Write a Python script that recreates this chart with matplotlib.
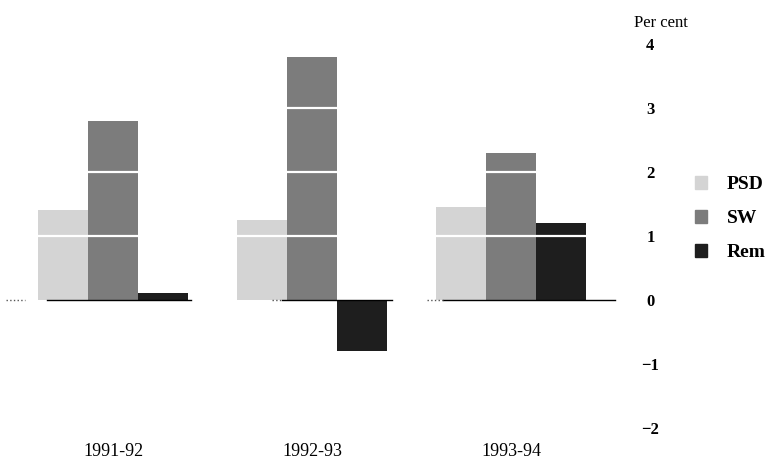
import matplotlib.pyplot as plt
import numpy as np

plt.rcParams['font.family'] = ['Liberation Serif', 'DejaVu Serif']

years = ['1991-92', '1992-93', '1993-94']
series = ['PSD', 'SW', 'Rem']
psd = [1.4, 1.25, 1.45]
sw = [2.8, 3.8, 2.3]
rem = [0.1, -0.8, 1.2]
yticks = [4, 3, 2, 1, 0, -1, -2]

colors = ['#d4d4d4', '#7c7c7c', '#1e1e1e']
width = 0.25

fig = plt.figure(figsize=(7.65, 4.61), dpi=100)
ax = fig.add_axes([0, 0, 1, 1])
ax.set_xlim(-0.568, 3.276)
ax.set_ylim(-2.52, 4.69)
ax.axis('off')

x = np.arange(len(years))
for k, (vals, c, name) in enumerate(zip([psd, sw, rem], colors, series)):
    ax.bar(x + (k - 1) * width, vals, width, color=c, label=name, zorder=2)

# white stripes through the bars at each whole per cent
for g in [1, 2, 3]:
    ax.axhline(g, xmin=0, xmax=0.79, color='white', lw=1.6, zorder=3)

# zero line, broken between the year groups as in the print
for x0, x1 in [(-0.33, 0.39), (0.85, 1.40), (1.66, 2.52)]:
    ax.plot([x0, x1], [0, 0], color='black', lw=1.0, zorder=4)
for x0, x1 in [(-0.54, -0.44), (0.80, 0.85), (1.58, 1.66)]:
    ax.plot([x0, x1], [0, 0], color='#555555', lw=1.0, ls=':', zorder=4)

for t in yticks:
    ax.text(2.70, t - 0.03, str(t).replace('-', '\u2212'), ha='center', va='center',
            fontsize=12, fontweight='bold')
ax.text(2.755, 4.33, 'Per cent', ha='center', va='center', fontsize=12)

for i, y in enumerate(years):
    ax.text(i, -2.37, y, ha='center', va='center', fontsize=13)

handles = [plt.Rectangle((0, 0), 1, 1, color=c) for c in colors]
leg = fig.legend(handles, series, loc='upper left', bbox_to_anchor=(0.908, 0.618),
                 frameon=False, fontsize=14, handlelength=0.65, handleheight=0.65,
                 labelspacing=0.85, handletextpad=1.0, borderpad=0, borderaxespad=0)
for t in leg.get_texts():
    t.set_fontweight('bold')

fig.savefig('out.png', dpi=100)
